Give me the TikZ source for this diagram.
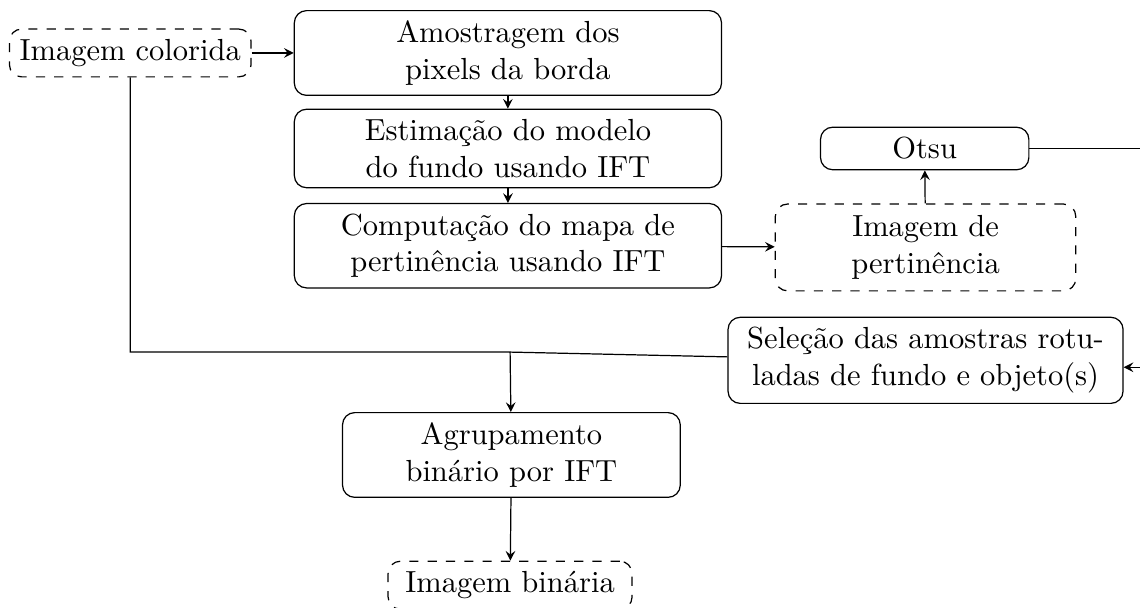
\documentclass[tikz,border=0pt]{standalone}
\usetikzlibrary{arrows.meta}
\tikzset{>=stealth}
\tikzset{
  procbox/.style={draw, rounded corners, align=center},
  imgbox/.style={draw, dashed, rounded corners, align=center},
}

\begin{document}
\begin{tikzpicture}
		\useasboundingbox (0,0) rectangle (13.13,-7.0);

		% Blocks
		\node[imgbox] (colorida) at (1.50,-0.61) {Imagem colorida};
		\node[procbox, minimum width=4.92cm] (amostragem) at (5.85,-0.61) {Amostragem dos\\pixels da borda};
		\node[procbox, minimum width=4.92cm] (estimacao) at (5.85,-1.71) {Estimação do modelo\\do fundo usando IFT};
		\node[procbox, minimum width=4.92cm] (computacao) at (5.85,-2.83) {Computação do mapa de\\pertinência usando IFT};
		\node[procbox, minimum width=2.40cm] (otsu) at (10.65,-1.71) {Otsu};
		\node[imgbox, minimum width=3.46cm, minimum height=1cm] (pertinencia) at (10.66,-2.85) {Imagem de\\pertinência};
		\node[procbox, minimum width=4.55cm] (selecao) at (10.66,-4.15) {Seleção das amostras rotu-\\ladas de fundo e objeto(s)};
		\node[procbox, minimum width=3.89cm] (agrupamento) at (5.89,-5.24) {Agrupamento\\binário por IFT};
		\node[imgbox, minimum width=2.81cm] (binaria) at (5.875,-6.74) {Imagem binária};
		\coordinate (juncao) at (5.875,-4.055);

		% Flow
		\draw[->] (colorida) -- (amostragem);
		\draw[->] (amostragem) -- (estimacao);
		\draw[->] (estimacao) -- (computacao);
		\draw[->] (computacao) -- (pertinencia);
		\draw[->] (pertinencia) -- (otsu);
		\draw[->] (otsu.east) -- (13.4,-1.71) |- (selecao.-2);
		\draw (colorida.south) |- (juncao) -- (selecao.179);
		\draw[->] (juncao) -- (agrupamento);
		\draw[->] (agrupamento) -- (binaria);
	\end{tikzpicture}
\end{document}
